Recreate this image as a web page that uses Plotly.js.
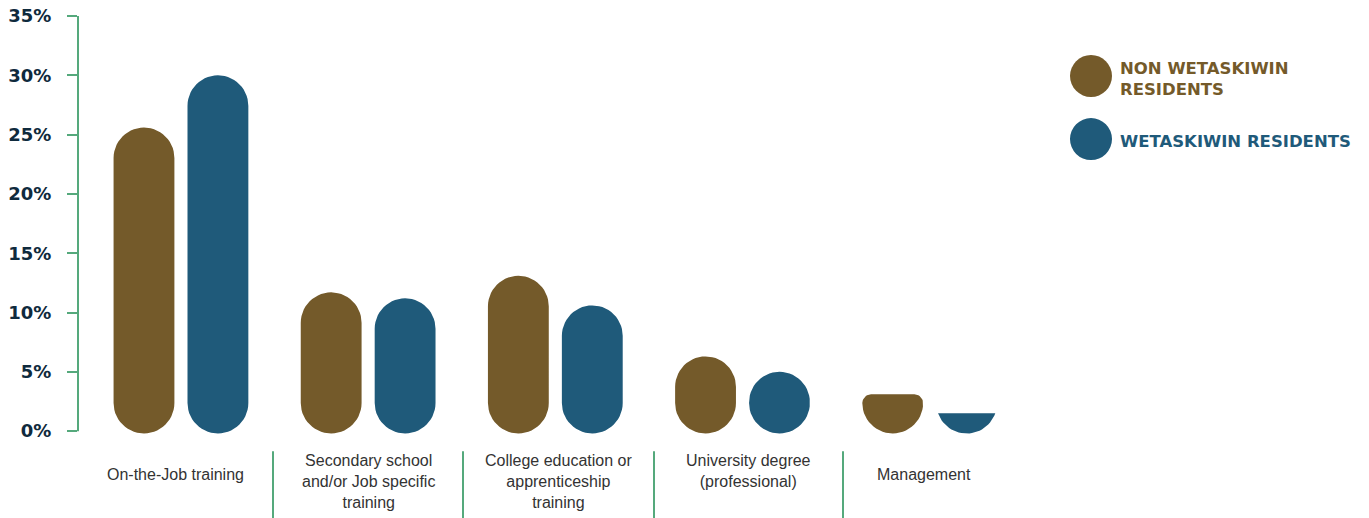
<!DOCTYPE html>
<html><head><meta charset="utf-8">
<script src="https://cdn.plot.ly/plotly-3.0.1.min.js"></script>
<style>html,body{margin:0;padding:0;background:#fff}#chart{width:1369px;height:518px}</style>
</head><body><div id="chart"></div>
<script>
// ---- data ----
const categories = ['On-the-Job training', 'Secondary school<br>and/or Job specific<br>training', 'College education or<br>apprenticeship<br>training', 'University degree<br>(professional)', 'Management'];
const nonResidents = [25.6, 11.7, 13.1, 6.3, 3.1];
const residents = [30.0, 11.2, 10.6, 5.0, 1.5];
const seriesNames = ['NON WETASKIWIN<br>RESIDENTS', 'WETASKIWIN RESIDENTS'];
const yTicks = [0, 5, 10, 15, 20, 25, 30, 35];

// ---- layout geometry ----
const W = 1369, H = 518;
const pxPerY = 415 / 35;
const yRange = [-1, 35];
const M = {l: 78, r: 327, t: 16, b: 87 - (0 - yRange[0]) * pxPerY};
const xRange = [-0.55, 4.6];
const plotW = W - M.l - M.r, plotH = H - M.t - M.b;
const pxPerX = plotW / (xRange[1] - xRange[0]);
const barW = 0.325, gap = 0.395;
const rPx = barW * pxPerX / 2;                     // cap radius in pixels
const rx = barW / 2;                               // cap radius in x units
const ry = rPx / pxPerY;                           // cap radius in y units
const floorV = -0.2;
const BROWN = '#745a2a', BLUE = '#1f5a7a', GREEN = '#55a97c', NAVY = '#0f2a3d';
const px = x => (x - M.l) / plotW;
const py = y => (H - M.b - y) / plotH;
// category separators (pixel x of the green dividers below the axis) and right edge of last slot
const dividerPx = [273, 463, 654, 843];
const slotEdgesPx = [M.l, ...dividerPx, 1004];

// outline of one rounded "pill" bar from floorV up to value v, centred at xc (drawn through the axes)
function pillOutline(xc, v) {
  const xs = [], ys = [], N = 28;
  const cb = floorV + ry;                      // centre of bottom cap
  const full = v - floorV >= 2 * ry;
  const lim = Math.min(v, cb);
  const a0 = Math.PI + Math.asin(Math.max(-1, Math.min(1, (cb - lim) / ry)));
  const a1 = 3 * Math.PI - a0;
  for (let k = 0; k <= N; k++) {
    const a = a0 + (a1 - a0) * k / N;
    xs.push(xc + rx * Math.cos(a)); ys.push(cb + ry * Math.sin(a));
  }
  if (full) {
    const ct = v - ry;
    for (let k = 0; k <= N; k++) {
      const a = Math.PI * k / N;
      xs.push(xc + rx * Math.cos(a)); ys.push(ct + ry * Math.sin(a));
    }
  } else if (v > cb) {
    // short bar: flat top with small rounded corners
    const cPx = Math.min((v - cb) * pxPerY, rPx);
    const cx = cPx / pxPerX, cy = cPx / pxPerY;
    for (let k = 0; k <= 10; k++) {
      const a = Math.PI / 2 * k / 10;
      xs.push(xc + rx - cx + cx * Math.cos(a)); ys.push(v - cy + cy * Math.sin(a));
    }
    for (let k = 0; k <= 10; k++) {
      const a = Math.PI / 2 + Math.PI / 2 * k / 10;
      xs.push(xc - rx + cx + cx * Math.cos(a)); ys.push(v - cy + cy * Math.sin(a));
    }
  }
  xs.push(xs[0]); ys.push(ys[0]);
  return [xs, ys];
}

function pillTrace(vals, color, shift, name) {
  const X = [], Y = [];
  vals.forEach((v, i) => {
    const [xs, ys] = pillOutline(i + shift, v);
    X.push(...xs, null); Y.push(...ys, null);
  });
  return {type: 'scatter', mode: 'lines', x: X, y: Y, fill: 'toself', fillcolor: color,
    line: {width: 0, color: color}, hoverinfo: 'skip', showlegend: false, name: name, cliponaxis: false};
}

const traces = [
  pillTrace(nonResidents, BROWN, -gap / 2, seriesNames[0]),
  pillTrace(residents, BLUE, gap / 2, seriesNames[1])
];

const annotations = categories.map((c, i) => {
  const lines = c.split('<br>').length;
  return {
    x: px((slotEdgesPx[i] + slotEdgesPx[i + 1]) / 2), xref: 'paper',
    y: lines > 1 ? py(450) : py(474.5), yref: 'paper', text: c, showarrow: false,
    xanchor: 'center', yanchor: lines > 1 ? 'top' : 'middle', align: 'center',
    font: {family: 'Liberation Sans, Arial, sans-serif', size: 16, color: '#333333'}
  };
});
annotations.push({x: px(1118), xref: 'paper', y: py(79), yref: 'paper', text: seriesNames[0], showarrow: false,
  xanchor: 'left', yanchor: 'middle', align: 'left',
  font: {family: 'DejaVu Sans, sans-serif', size: 16.5, color: BROWN, weight: 'bold'}});
annotations.push({x: px(1118), xref: 'paper', y: py(141), yref: 'paper', text: seriesNames[1], showarrow: false,
  xanchor: 'left', yanchor: 'middle', align: 'left',
  font: {family: 'DejaVu Sans, sans-serif', size: 16.5, color: BLUE, weight: 'bold'}});

const shapes = [];
shapes.push({type: 'line', xref: 'paper', x0: 0, x1: 0, yref: 'y', y0: 0, y1: yTicks[yTicks.length - 1],
  line: {color: GREEN, width: 2}});
dividerPx.forEach(d => {
  shapes.push({type: 'line', xref: 'paper', x0: px(d), x1: px(d), yref: 'paper', y0: py(451), y1: py(518),
    line: {color: GREEN, width: 2}});
});
shapes.push({type: 'circle', xref: 'paper', yref: 'paper', x0: px(1070), x1: px(1112), y0: py(97), y1: py(55),
  fillcolor: BROWN, line: {width: 0}});
shapes.push({type: 'circle', xref: 'paper', yref: 'paper', x0: px(1070), x1: px(1112), y0: py(160), y1: py(118),
  fillcolor: BLUE, line: {width: 0}});

const layout = {
  width: W, height: H, margin: M, paper_bgcolor: '#fff', plot_bgcolor: '#fff',
  showlegend: false,
  xaxis: {range: xRange, showticklabels: false, showgrid: false, zeroline: false, showline: false, ticks: '', fixedrange: true},
  yaxis: {range: yRange, tickvals: yTicks, ticktext: yTicks.map(v => v + '%'), ticks: 'outside', ticklen: 10,
    tickwidth: 2, tickcolor: GREEN, showline: false, showgrid: false, zeroline: false,
    ticklabelstandoff: 12,
    tickfont: {family: 'DejaVu Sans, sans-serif', size: 18, color: NAVY, weight: 'bold'}},
  annotations: annotations, shapes: shapes
};
Plotly.newPlot('chart', traces, layout, {displayModeBar: false, staticPlot: true});
</script></body></html>
